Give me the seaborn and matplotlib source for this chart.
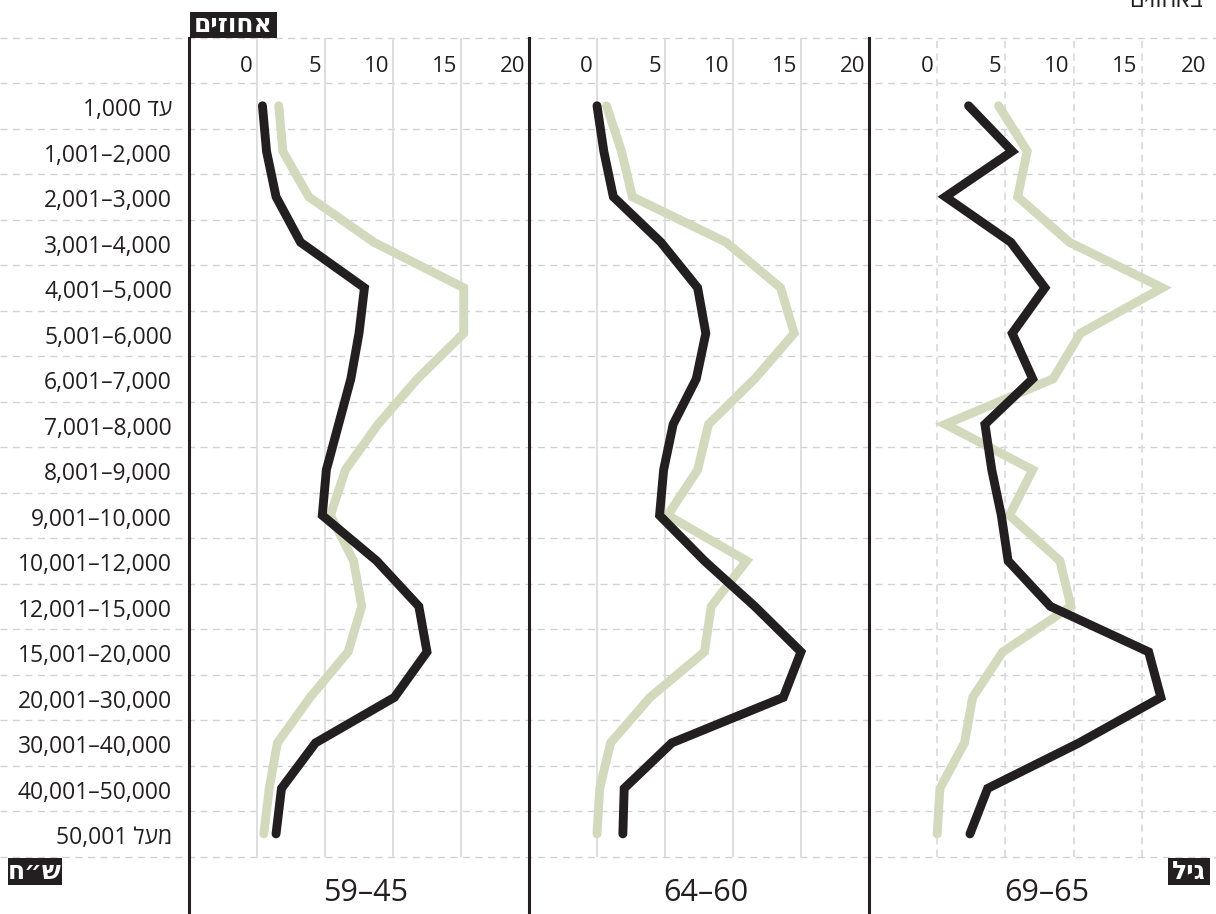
import re
import numpy as np
import pandas as pd
import matplotlib
matplotlib.use("Agg")
import matplotlib.pyplot as plt
import matplotlib.transforms as mtransforms
from matplotlib.patches import Rectangle
import seaborn as sns

# ---------------- data ----------------
income_brackets = [
    "עד 1,000", "1,001–2,000", "2,001–3,000", "3,001–4,000", "4,001–5,000",
    "5,001–6,000", "6,001–7,000", "7,001–8,000", "8,001–9,000", "9,001–10,000",
    "10,001–12,000", "12,001–15,000", "15,001–20,000", "20,001–30,000",
    "30,001–40,000", "40,001–50,000", "מעל 50,001",
]
age_groups = ["59–45", "64–60", "69–65"]
x_ticks = [0, 5, 10, 15, 20]

dark_45_59 = [0.4, 0.7, 1.4, 3.2, 7.9, 7.5, 6.9, 6.0, 5.1, 4.8, 8.8, 11.9, 12.5, 10.1, 4.3, 1.8, 1.4]
light_45_59 = [1.6, 1.9, 3.8, 8.6, 15.2, 15.2, 11.8, 8.9, 6.5, 5.4, 7.1, 7.7, 6.7, 3.9, 1.5, 0.9, 0.5]
dark_60_64 = [0.0, 0.5, 1.2, 4.7, 7.4, 8.0, 7.3, 5.6, 4.9, 4.6, 7.9, 11.6, 15.0, 13.7, 5.5, 2.0, 1.9]
light_60_64 = [0.7, 1.8, 2.6, 9.5, 13.5, 14.5, 11.6, 8.2, 7.4, 5.2, 11.0, 8.4, 7.9, 3.9, 1.0, 0.2, 0.0]
dark_65_69 = [2.3, 5.5, 0.6, 5.4, 7.9, 5.5, 7.0, 3.5, 4.0, 4.7, 5.2, 8.3, 15.5, 16.4, 10.4, 3.7, 2.4]
light_65_69 = [4.5, 6.6, 5.9, 9.7, 16.5, 10.5, 8.5, 0.6, 7.0, 5.3, 9.0, 9.8, 4.8, 2.6, 2.0, 0.2, 0.0]

axis_title = "אחוזים"
income_title = "ש״ח"
age_title = "גיל"
top_note = "באחוזים"

panels = [
    (dark_45_59, light_45_59),
    (dark_60_64, light_60_64),
    (dark_65_69, light_65_69),
]

# ---------------- style ----------------
DARK = "#231f20"
LIGHT = "#d3d9bc"
GRID = "#dcdcdc"

sns.set_theme(style="white")
plt.rcParams["font.family"] = ["Open Sans", "DejaVu Sans"]
plt.rcParams["text.color"] = DARK


def visual(s):
    """Simple right-to-left visual ordering for matplotlib (no bidi support)."""
    if not re.search("[\u0590-\u05FF]", s):
        return s
    tokens = re.findall(r"[\u0590-\u05FF]+|\s+|[^\u0590-\u05FF\s]+", s)
    out = []
    for t in reversed(tokens):
        out.append(t[::-1] if re.match("[\u0590-\u05FF]", t) else t)
    return "".join(out)


W, H = 1216, 914
fig = plt.figure(figsize=(W / 100, H / 100), dpi=100)
fig.patch.set_facecolor("white")

ROW_PX = 45.51
ROW0_TOP = 83.0
n_rows = len(income_brackets)


def py2row(py):
    return (py - ROW0_TOP) / ROW_PX - 0.5


# background axes spanning the full figure
bg = fig.add_axes([0, 0, 1, 1])
bg.set_xlim(0, W)
bg.set_ylim(py2row(H), py2row(0))
bg.axis("off")

# horizontal dashed row lines
row_lines = [py2row(38)] + [r - 0.5 for r in range(n_rows + 1)]
bg.hlines(row_lines, 0, W, colors="#d2d2d2", linestyles=(0, (5, 4)), linewidth=1.0)

# row labels
for r, lab in enumerate(income_brackets):
    bg.text(172, r + 0.1, visual(lab), ha="right", va="center", fontsize=16.5, color=DARK)


def box(x0, x1, py0, py1, text, fs=18):
    y0, y1 = py2row(py0), py2row(py1)
    bg.add_patch(Rectangle((x0, y0), x1 - x0, y1 - y0, facecolor=DARK, edgecolor="none", zorder=5))
    bg.text((x0 + x1) / 2, (y0 + y1) / 2 + 0.02, visual(text), ha="center", va="center",
            color="white", fontsize=fs, fontweight="bold", zorder=6)


box(190, 277, 12, 38, axis_title)
box(8, 62, 858, 885, income_title)
box(1168, 1210, 858, 885, age_title)

bg.text(1203, py2row(7), visual(top_note), ha="right", va="baseline", fontsize=17, color=DARK)

# ---------------- panels ----------------
panel_px = [(189, 529), (529, 869), (869, 1210)]
rows = np.arange(n_rows)

for i, ((left, right), (dark_vals, light_vals)) in enumerate(zip(panel_px, panels)):
    ax = fig.add_axes([left / W, 0, (right - left) / W, (H - 38) / H])
    ax.patch.set_alpha(0)

    df = pd.DataFrame({
        "value": list(light_vals) + list(dark_vals),
        "row": list(rows) + list(rows),
        "series": ["light"] * n_rows + ["dark"] * n_rows,
    })
    # gridlines
    ls = "-" if i < 2 else (0, (4, 3))
    ax.vlines(x_ticks[:-1], py2row(856.7), py2row(38), colors=GRID, linestyles=ls,
              linewidth=1.3, zorder=0)

    sns.lineplot(data=df, x="value", y="row", hue="series", hue_order=["light", "dark"],
                 palette={"light": LIGHT, "dark": DARK}, orient="y", estimator=None,
                 sort=True, linewidth=6.4, legend=False, ax=ax, zorder=3)
    for ln in ax.lines:
        ln.set_solid_capstyle("round")
        ln.set_solid_joinstyle("miter")

    ax.set_xlim(-5, 20)
    ax.set_ylim(py2row(H), py2row(38))
    ax.set_xlabel("")
    ax.set_ylabel("")
    ax.set_xticks([])
    ax.set_yticks([])
    for s in ["top", "right", "bottom"]:
        ax.spines[s].set_visible(False)
    ax.spines["left"].set_color(DARK)
    ax.spines["left"].set_linewidth(2.2)

    off = mtransforms.offset_copy(ax.transData, fig=fig, x=-4, y=0, units="dots")
    for v in x_ticks:
        ax.text(v, py2row(67), str(v), ha="right", va="center", fontsize=16,
                color=DARK, transform=off)

    blend = mtransforms.blended_transform_factory(ax.transAxes, ax.transData)
    ax.text(0.52, py2row(893), age_groups[i], ha="center", va="center", fontsize=22,
            color=DARK, transform=blend)

fig.savefig("out.png", dpi=100, facecolor="white")
